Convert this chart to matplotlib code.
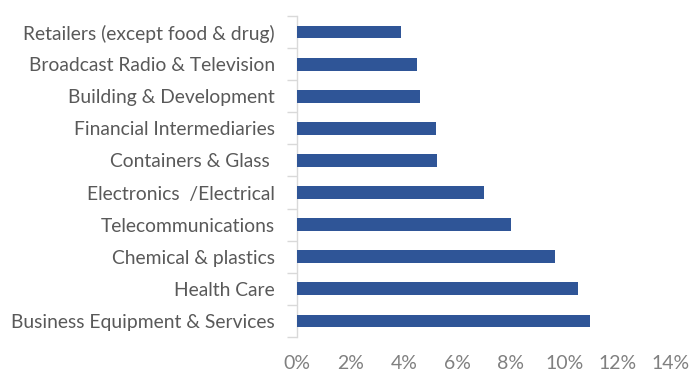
import matplotlib
matplotlib.use("Agg")
import matplotlib.pyplot as plt
import numpy as np

# Categories (top to bottom) and values in %
categories = [
    "Retailers (except food & drug)",
    "Broadcast Radio & Television",
    "Building & Development",
    "Financial Intermediaries",
    "Containers & Glass ",
    "Electronics  /Electrical",
    "Telecommunications",
    "Chemical & plastics",
    "Health Care",
    "Business Equipment & Services",
]
values = [3.9, 4.5, 4.6, 5.2, 5.25, 7.0, 8.0, 9.65, 10.5, 10.95]
x_ticks = [0, 2, 4, 6, 8, 10, 12, 14]
x_tick_labels = ["0%", "2%", "4%", "6%", "8%", "10%", "12%", "14%"]

plt.rcParams['font.family'] = ['Lato', 'DejaVu Sans']

fig = plt.figure(figsize=(6.91, 3.75), dpi=100)
ax = fig.add_axes([297 / 691, 1 - 337 / 375, (671 - 297) / 691, (337 - 16) / 375])

n = len(categories)
ypos = np.arange(n)[::-1]
ax.barh(ypos, values, height=0.4, color='#2F5597', zorder=3)

ax.set_xlim(0, 14)
ax.set_ylim(-0.5, n - 0.5)
ax.set_xticks(x_ticks)
ax.set_xticklabels(x_tick_labels, fontsize=14, color='#808080')
ax.tick_params(axis='x', length=0, pad=13)

# category labels centred on bars, ticks at category boundaries
ax.set_yticks(ypos)
ax.set_yticklabels(categories, fontsize=13.9, color='#595959')
ax.tick_params(axis='y', which='major', length=0, pad=16)
ax.set_yticks(np.arange(-0.5, n, 1.0), minor=True)
ax.tick_params(axis='y', which='minor', length=7, color='#D9D9D9', width=1)

for s in ['top', 'right', 'bottom']:
    ax.spines[s].set_visible(False)
ax.spines['left'].set_color('#D9D9D9')
ax.spines['left'].set_linewidth(1)

fig.savefig("out.png", dpi=100)
